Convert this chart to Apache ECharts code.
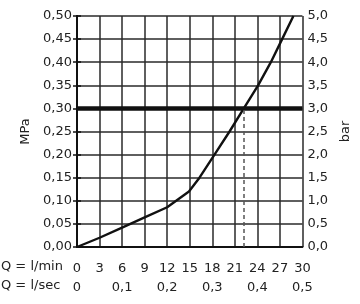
<!DOCTYPE html>
<html><head><meta charset="utf-8">
<script src="https://cdn.jsdelivr.net/npm/echarts@6/dist/echarts.min.js"></script>
<style>html,body{margin:0;padding:0;background:#fff}#c{width:360px;height:304px}</style>
</head><body><div id="c"></div>
<script>
const flowLmin = [0, 3, 6, 9, 12, 14.9, 16.3, 18.3, 20.3, 22.2, 24.1, 25.8, 27.3, 28.8];
const pressureMPa = [0, 0.02, 0.042, 0.064, 0.086, 0.12, 0.15, 0.20, 0.25, 0.30, 0.35, 0.40, 0.45, 0.50];
const refPressure = 0.30;
const refFlow = 22.2;
const lminTicks = [0, 3, 6, 9, 12, 15, 18, 21, 24, 27, 30];
const lsecTicks = [0, 0.1, 0.2, 0.3, 0.4, 0.5];
const mpaTicks = [0, 0.05, 0.10, 0.15, 0.20, 0.25, 0.30, 0.35, 0.40, 0.45, 0.50];
const barTicks = [0, 0.5, 1, 1.5, 2, 2.5, 3, 3.5, 4, 4.5, 5];

const FONT = 'DejaVu Sans';
const comma = (v, d) => v.toFixed(d).replace('.', ',');
const chart = echarts.init(document.getElementById('c'), null, {renderer: 'canvas'});
const grid = {left: 77, right: 57, top: 16, bottom: 57};
chart.setOption({
  animation: false,
  grid: grid,
  xAxis: [
    {type: 'value', min: 0, max: 30, interval: 3, position: 'bottom',
     axisLine: {show: true, onZero: false, lineStyle: {color: '#111', width: 2}},
     axisTick: {show: false},
     splitLine: {show: true, lineStyle: {color: '#2a2a2a', width: 1.5}},
     axisLabel: {margin: 15, fontFamily: FONT, fontSize: 13, color: '#222',
       formatter: v => lminTicks.includes(v) ? String(v) : ''}},
    {type: 'value', min: 0, max: 0.5, interval: 0.1, position: 'bottom',
     axisLine: {show: false}, axisTick: {show: false}, splitLine: {show: false},
     axisLabel: {margin: 34, fontFamily: FONT, fontSize: 13, color: '#222',
       formatter: v => v === 0 ? '0' : comma(v, 1)}}
  ],
  yAxis: [
    {type: 'value', min: 0, max: 0.5, interval: 0.05, position: 'left',
     name: 'MPa', nameLocation: 'middle', nameGap: 40, nameRotate: 90,
     nameTextStyle: {fontFamily: FONT, fontSize: 13, color: '#222'},
     axisLine: {show: true, lineStyle: {color: '#111', width: 2}},
     axisTick: {show: true, inside: false, length: 4, lineStyle: {color: '#111', width: 1.5}},
     splitLine: {show: true, lineStyle: {color: '#2a2a2a', width: 1.5}},
     axisLabel: {margin: 5, fontFamily: FONT, fontSize: 13, color: '#222',
       formatter: v => comma(v, 2)}},
    {type: 'value', min: 0, max: 5, interval: 0.5, position: 'right',
     name: 'bar', nameLocation: 'middle', nameGap: 35, nameRotate: 90,
     nameTextStyle: {fontFamily: FONT, fontSize: 13, color: '#222'},
     axisLine: {show: true, lineStyle: {color: '#111', width: 2}},
     axisTick: {show: true, inside: false, length: 4, lineStyle: {color: '#111', width: 1.5}},
     splitLine: {show: false},
     axisLabel: {margin: 5, fontFamily: FONT, fontSize: 13, color: '#222',
       formatter: v => comma(v, 1)}}
  ],
  graphic: [
    {type: 'text', left: 1, top: 260, style: {text: 'Q = l/min', fontFamily: FONT, fontSize: 13, fill: '#222'}},
    {type: 'text', left: 1, top: 279, style: {text: 'Q = l/sec', fontFamily: FONT, fontSize: 13, fill: '#222'}}
  ],
  series: [
    {type: 'line', xAxisIndex: 0, yAxisIndex: 0, symbol: 'none', smooth: false,
     lineStyle: {color: '#111', width: 2.4, join: 'round'},
     data: flowLmin.map((x, i) => [x, pressureMPa[i]]),
     markLine: {silent: true, symbol: 'none', label: {show: false},
       data: [
         [{coord: [0, refPressure], lineStyle: {color: '#111', width: 4.5, type: 'solid'}}, {coord: [30, refPressure]}],
         [{coord: [refFlow, 0], lineStyle: {color: '#555', width: 1.5, type: [4, 3]}}, {coord: [refFlow, refPressure]}]
       ]}}
  ]
});
</script></body></html>
